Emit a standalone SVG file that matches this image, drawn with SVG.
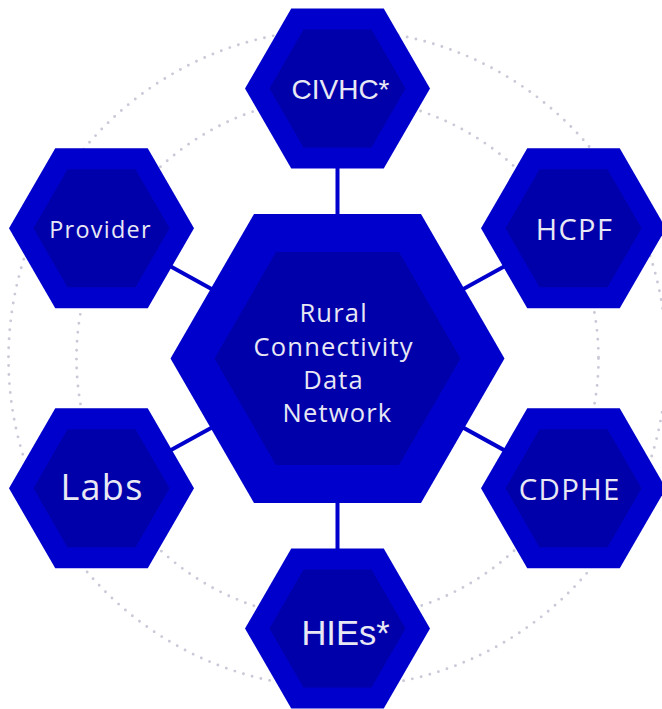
<svg xmlns="http://www.w3.org/2000/svg" xmlns:xlink="http://www.w3.org/1999/xlink" width="662" height="709" viewBox="0 0 662 709">
  <style>
    .ring { fill: none; stroke: #C9C9D8; stroke-width: 2.9; stroke-linecap: round; stroke-dasharray: 0 9; }
    .link { stroke: #0000CC; stroke-width: 4; fill: none; }
    .outer { fill: #0000CC; }
    .inner { fill: #0000AA; }
    .lbl { fill: #E8E8F4; font-family: "Open Sans", "Liberation Sans", sans-serif; text-anchor: middle; }
    .lbl2 { fill: #E8E8F4; font-family: "Liberation Sans", Arial, sans-serif; text-anchor: middle; }
  </style>
  <defs>
    <!-- flat-topped hexagons centred on the origin -->
    <polygon id="hexS" points="-46.25,-80 46.25,-80 92.5,0 46.25,80 -46.25,80 -92.5,0"/>
    <polygon id="hexSi" points="-34,-59 34,-59 68,0 34,59 -34,59 -68,0"/>
    <polygon id="hexL" points="-83.5,-144.6 83.5,-144.6 167,0 83.5,144.6 -83.5,144.6 -167,0"/>
    <polygon id="hexLi" points="-61.5,-106.5 61.5,-106.5 123,0 61.5,106.5 -61.5,106.5 -123,0"/>
  </defs>

  <rect width="662" height="709" fill="#FFFFFF"/>

  <!-- dotted orbit rings -->
  <g id="rings">
    <circle class="ring" cx="337.5" cy="358.5" r="329"/>
    <circle class="ring" cx="337.5" cy="358.5" r="261"/>
  </g>

  <!-- spokes from the hub to each satellite -->
  <g id="connectors">
    <line class="link" x1="337.5" y1="358.5" x2="337.5" y2="88.5"/>
    <line class="link" x1="337.5" y1="358.5" x2="337.5" y2="628.5"/>
    <line class="link" x1="337.5" y1="358.5" x2="101.5" y2="228.3"/>
    <line class="link" x1="337.5" y1="358.5" x2="573.5" y2="228.3"/>
    <line class="link" x1="337.5" y1="358.5" x2="101.5" y2="488.3"/>
    <line class="link" x1="337.5" y1="358.5" x2="573.5" y2="488.3"/>
  </g>

  <g id="hub" transform="translate(337.5,358.5)">
    <use xlink:href="#hexL" class="outer"/>
    <use xlink:href="#hexLi" class="inner"/>
    <text class="lbl" font-size="25.5" letter-spacing="1.2">
      <tspan x="0" y="-36.8">Rural</tspan>
      <tspan x="0" y="-2.8">Connectivity</tspan>
      <tspan x="0" y="30.5">Data</tspan>
      <tspan x="0" y="63.8">Network</tspan>
    </text>
  </g>

  <g id="civhc" transform="translate(337.5,88.5)">
    <use xlink:href="#hexS" class="outer"/>
    <use xlink:href="#hexSi" class="inner"/>
    <text class="lbl2" x="3" y="10.5" font-size="28">CIVHC*</text>
  </g>

  <g id="provider" transform="translate(101.5,228.3)">
    <use xlink:href="#hexS" class="outer"/>
    <use xlink:href="#hexSi" class="inner"/>
    <text class="lbl" x="-1" y="10" font-size="23.4" letter-spacing="1.3">Provider</text>
  </g>

  <g id="hcpf" transform="translate(573.5,228.3)">
    <use xlink:href="#hexS" class="outer"/>
    <use xlink:href="#hexSi" class="inner"/>
    <text class="lbl" x="1" y="11.7" font-size="29" letter-spacing="1.4">HCPF</text>
  </g>

  <g id="labs" transform="translate(101.5,488.3)">
    <use xlink:href="#hexS" class="outer"/>
    <use xlink:href="#hexSi" class="inner"/>
    <text class="lbl" x="0.5" y="11.7" font-size="36" letter-spacing="1.3">Labs</text>
  </g>

  <g id="cdphe" transform="translate(573.5,488.3)">
    <use xlink:href="#hexS" class="outer"/>
    <use xlink:href="#hexSi" class="inner"/>
    <text class="lbl" x="-3.8" y="11.7" font-size="29.4" letter-spacing="1.3">CDPHE</text>
  </g>

  <g id="hies" transform="translate(337.5,628.5)">
    <use xlink:href="#hexS" class="outer"/>
    <use xlink:href="#hexSi" class="inner"/>
    <text class="lbl2" x="8" y="16.5" font-size="34.5">HIEs*</text>
  </g>
</svg>
